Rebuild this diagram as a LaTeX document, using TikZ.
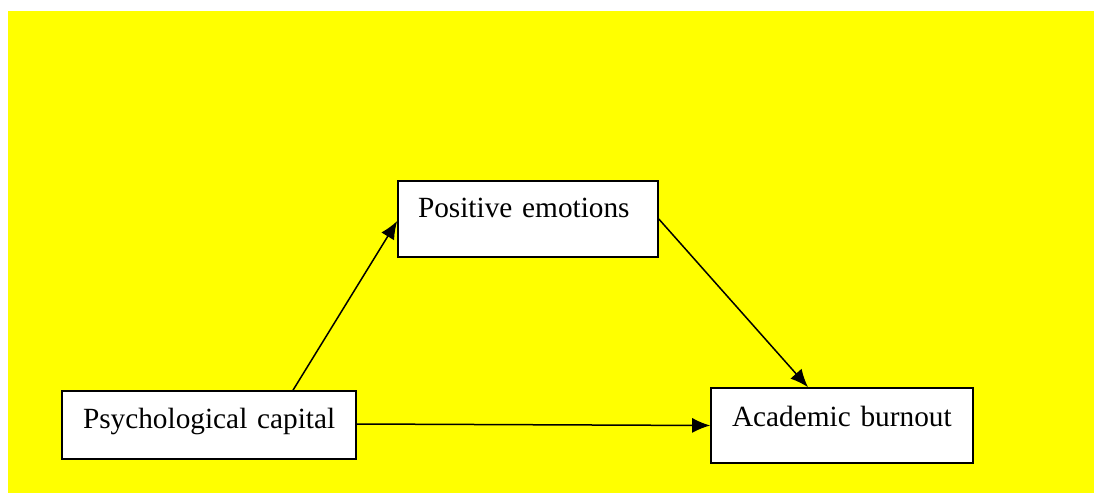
\documentclass[tikz,border=0pt]{standalone}
\usepackage{fontspec}
\setmainfont{Liberation Serif}
\usetikzlibrary{arrows.meta}
\definecolor{bgyellow}{RGB}{255,255,0}
\begin{document}
\begin{tikzpicture}[x=1pt,y=1pt,
  box/.style={draw=black, line width=1.6pt, fill=white, inner ysep=0pt,
    font=\fontsize{29.3}{34}\selectfont, align=left},
  conn/.style={line width=1.5pt, -{Latex[length=18pt,width=15pt]}}]
\useasboundingbox (0,0) rectangle (1094,493);
\fill[bgyellow] (8,0) rectangle (1094,482);
\node[box, minimum width=260pt, minimum height=76pt, inner xsep=20pt, text width=220pt,
  text height=20pt, text depth=22pt] (pe) at (528,274) {\mbox{Positive emotions}};
\node[box, minimum width=294pt, minimum height=68pt, inner xsep=21pt, text width=252pt,
  text height=20pt, text depth=14pt] (psy) at (209,68) {\mbox{Psychological capital}};
\node[box, minimum width=262pt, minimum height=75pt, inner xsep=21pt, text width=220pt,
  text height=20pt, text depth=19pt] (ab) at (842,67.5) {\mbox{Academic burnout}};
\draw[conn] ([xshift=84pt]psy.north) -- ([yshift=-2pt]pe.west);
\draw[conn] (pe.east) -- ([xshift=-34pt]ab.north);
\draw[conn] ([yshift=1pt]psy.east) -- (ab.west);
\end{tikzpicture}
\end{document}
